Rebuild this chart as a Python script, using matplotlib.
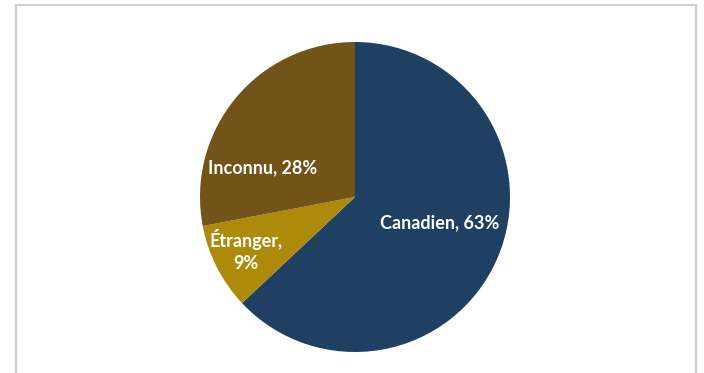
import matplotlib
matplotlib.use("Agg")
import matplotlib.pyplot as plt
from matplotlib.patches import Rectangle

categories = ["Canadien", "Étranger", "Inconnu"]
shares = [63, 9, 28]
colors = ["#1F3F63", "#AE8A0B", "#725418"]

# label anchor points inside each wedge (data coords of the unit pie)
label_xy = {"Canadien": (0.548, -0.165),
            "Étranger": (-0.705, -0.345),
            "Inconnu": (-0.594, 0.19)}
label_text = {"Canadien": "Canadien, {}%",
              "Étranger": "Étranger,\n{}%",
              "Inconnu": "Inconnu, {}%"}

plt.rcParams['font.family'] = ['Lato', 'DejaVu Sans']

W, H = 704, 373
fig = plt.figure(figsize=(W / 100, H / 100), dpi=100)
fig.patch.set_facecolor("white")

# light grey frame, open at the bottom edge of the image
fig.patches.append(Rectangle((16 / W, -0.05), (696 - 16) / W, (H - 5) / H + 0.05,
                             transform=fig.transFigure, fill=False,
                             edgecolor="#D0D0D0", linewidth=1.6))

cx, cy, r = 355, 176, 155
ax = fig.add_axes([(cx - r) / W, (cy - r) / H, 2 * r / W, 2 * r / H])
ax.pie(shares, colors=colors, startangle=90, counterclock=False, radius=1,
       wedgeprops=dict(linewidth=0))
ax.set_xlim(-1, 1)
ax.set_ylim(-1, 1)
ax.set_aspect("equal")
ax.axis("off")

for cat, val in zip(categories, shares):
    x, y = label_xy[cat]
    ax.text(x, y, label_text[cat].format(val), ha="center", va="center",
            color="white", fontsize=13, fontweight="bold", linespacing=1.4)

fig.savefig("out.png", dpi=100)
